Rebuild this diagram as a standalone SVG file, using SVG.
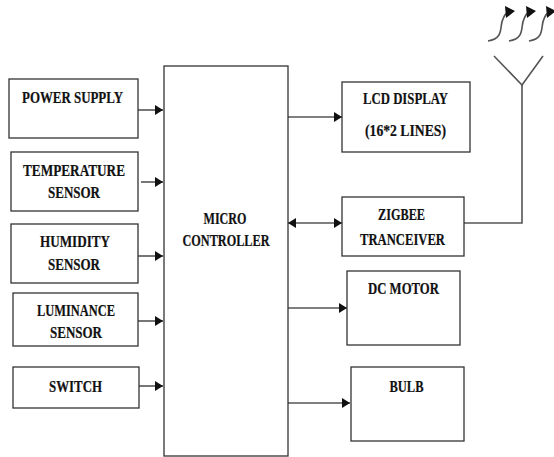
<svg xmlns="http://www.w3.org/2000/svg" width="554" height="457" viewBox="0 0 554 457">
<style>
.b{fill:#fff;stroke:#333;stroke-width:1.3}
.c{fill:none;stroke:#555;stroke-width:1.6}
.t{font-family:"Liberation Serif","DejaVu Serif",serif;font-weight:bold;font-size:16px;fill:#111;stroke:#111;stroke-width:.2;text-anchor:middle}
</style>
<defs>
<marker id="a" markerUnits="userSpaceOnUse" markerWidth="9" markerHeight="10" refX="8" refY="5" orient="auto-start-reverse"><path d="M0 0L8 5L0 10Z" fill="#111"/></marker>
<marker id="w" markerUnits="userSpaceOnUse" markerWidth="11" markerHeight="12" refX="2" refY="7" orient="0"><path d="M0 0L10 5L1 12Z" fill="#111"/></marker>
</defs>
<rect width="554" height="457" fill="#fff"/>
<g id="connectors">
<path class="c" d="M138 110H163" marker-end="url(#a)"/>
<path class="c" d="M141 182H163" marker-end="url(#a)"/>
<path class="c" d="M138 256H163" marker-end="url(#a)"/>
<path class="c" d="M138 321H163" marker-end="url(#a)"/>
<path class="c" d="M139 386H163" marker-end="url(#a)"/>
<path class="c" d="M288 117H342" marker-end="url(#a)"/>
<path class="c" d="M288 223H342" marker-start="url(#a)" marker-end="url(#a)"/>
<path class="c" d="M285 308H347" marker-end="url(#a)"/>
<path class="c" d="M286 403H350" marker-end="url(#a)"/>
<path class="c" d="M464 223H522V85"/>
</g>
<g id="antenna">
<path class="c" d="M494 56L522 85L543 56"/>
<path class="c" d="M488 41C505 38 499 26 503 19C504 16 505 14 507 13" marker-end="url(#w)"/>
<path class="c" d="M509 41C526 38 520 26 524 19C525 16 526 14 528 13" marker-end="url(#w)"/>
<path class="c" d="M529 41C546 38 540 26 544 19C545 16 546 14 548 13" marker-end="url(#w)"/>
</g>
<g id="power"><rect class="b" x="9" y="79" width="129" height="59"/><text class="t" x="72.500" y="103" textLength="101" lengthAdjust="spacingAndGlyphs">POWER SUPPLY</text></g>
<g id="temperature"><rect class="b" x="11" y="152" width="127" height="59"/><text class="t" x="74" y="176" textLength="102" lengthAdjust="spacingAndGlyphs">TEMPERATURE</text><text class="t" x="74" y="198" textLength="52" lengthAdjust="spacingAndGlyphs">SENSOR</text></g>
<g id="humidity"><rect class="b" x="11" y="224" width="127" height="59"/><text class="t" x="75" y="247" textLength="70" lengthAdjust="spacingAndGlyphs">HUMIDITY</text><text class="t" x="74" y="270" textLength="52" lengthAdjust="spacingAndGlyphs">SENSOR</text></g>
<g id="luminance"><rect class="b" x="13" y="293" width="125" height="53"/><text class="t" x="76" y="316" textLength="78" lengthAdjust="spacingAndGlyphs">LUMINANCE</text><text class="t" x="76" y="338" textLength="52" lengthAdjust="spacingAndGlyphs">SENSOR</text></g>
<g id="switch"><rect class="b" x="13" y="367" width="126" height="41"/><text class="t" x="75.500" y="392" textLength="53" lengthAdjust="spacingAndGlyphs">SWITCH</text></g>
<g id="micro"><rect class="b" x="164" y="66" width="124" height="390"/><text class="t" x="225" y="224" textLength="43" lengthAdjust="spacingAndGlyphs">MICRO</text><text class="t" x="226" y="246" textLength="87" lengthAdjust="spacingAndGlyphs">CONTROLLER</text></g>
<g id="lcd"><rect class="b" x="342" y="82" width="128" height="70"/><text class="t" x="405.500" y="104" textLength="85" lengthAdjust="spacingAndGlyphs">LCD DISPLAY</text><text class="t" x="405.500" y="136" textLength="81" lengthAdjust="spacingAndGlyphs">(16*2 LINES)</text></g>
<g id="zigbee"><rect class="b" x="342" y="197" width="122" height="59"/><text class="t" x="401.500" y="220" textLength="47" lengthAdjust="spacingAndGlyphs">ZIGBEE</text><text class="t" x="402.500" y="245" textLength="85" lengthAdjust="spacingAndGlyphs">TRANCEIVER</text></g>
<g id="motor"><rect class="b" x="347" y="271" width="113" height="74"/><text class="t" x="403.500" y="294" textLength="71" lengthAdjust="spacingAndGlyphs">DC MOTOR</text></g>
<g id="bulb"><rect class="b" x="351" y="367" width="113" height="74"/><text class="t" x="406.500" y="392" textLength="34" lengthAdjust="spacingAndGlyphs">BULB</text></g>
</svg>
